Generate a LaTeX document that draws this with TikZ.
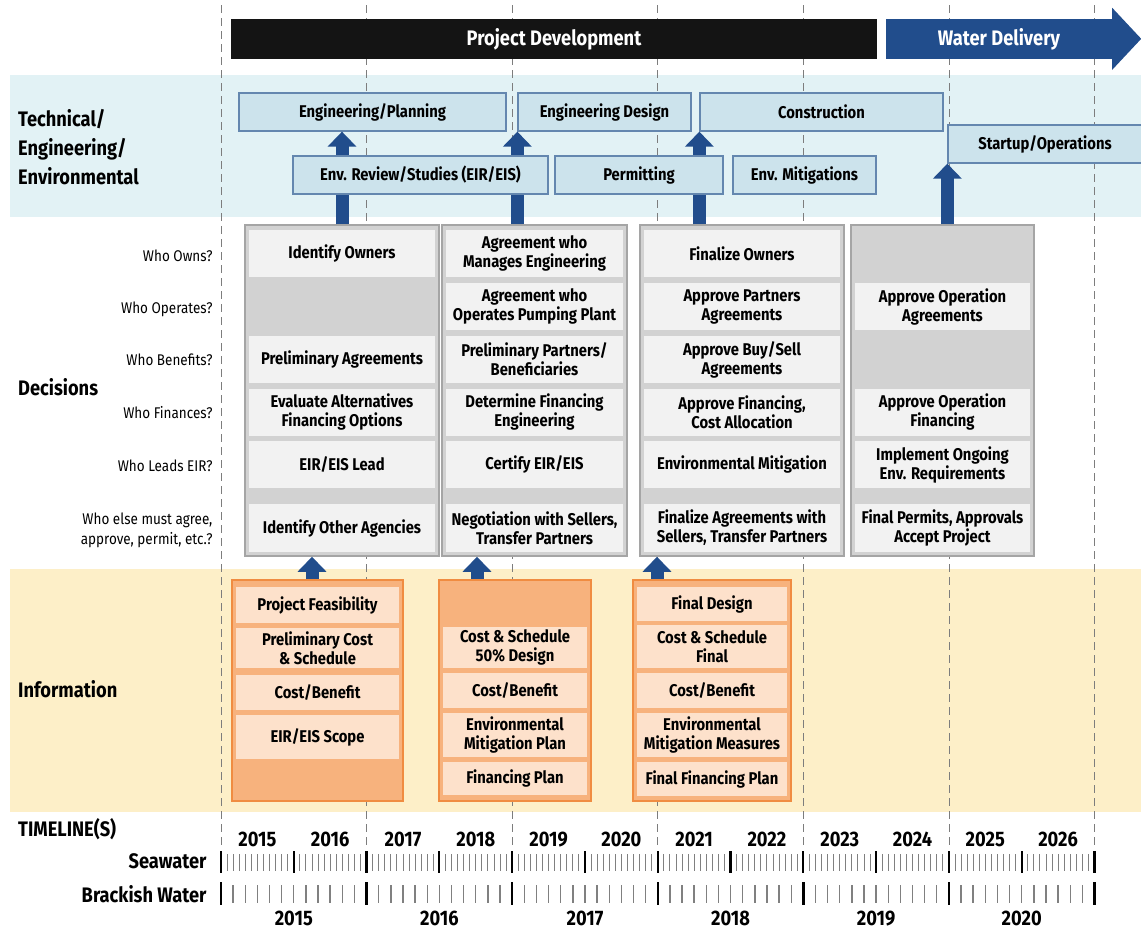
\documentclass[tikz,border=0pt]{standalone}
\usepackage{fontspec}
\setmainfont{Fira Sans}[FakeStretch=0.87]
\usetikzlibrary{arrows.meta,positioning,calc}
\definecolor{pdblack}{RGB}{20,20,20}
\definecolor{wdnavy}{RGB}{33,77,140}
\definecolor{techband}{RGB}{226,242,245}
\definecolor{techfill}{RGB}{204,227,236}
\definecolor{techline}{RGB}{100,135,175}
\definecolor{decgray}{RGB}{210,210,210}
\definecolor{decline}{RGB}{165,165,165}
\definecolor{deccellc}{RGB}{242,242,242}
\definecolor{infoband}{RGB}{253,239,200}
\definecolor{infofill}{RGB}{247,178,125}
\definecolor{infoline}{RGB}{240,140,65}
\definecolor{infocellc}{RGB}{253,225,203}
\definecolor{gridgray}{RGB}{125,125,125}

\begin{document}
\begin{tikzpicture}[x=1pt,y=-1pt,font=\bfseries\fontsize{17}{19}\selectfont,
  techbox/.style={draw=techline,fill=techfill,line width=1.3pt,minimum height=38pt,inner sep=0pt},
  deccol/.style={draw=decline,fill=decgray,line width=1.5pt,minimum height=331pt,inner sep=0pt},
  deccell/.style={fill=deccellc,minimum height=47pt,inner sep=0pt,align=center},
  infocol/.style={draw=infoline,fill=infofill,line width=2pt,minimum height=221pt,inner sep=0pt},
  infocell/.style={fill=infocellc,inner sep=0pt,align=center},
  bigup/.style={wdnavy,line width=13pt,-{Triangle[width=28pt,length=15pt]}},
  rowlabel/.style={anchor=east,align=right,font=\mdseries\fontsize{15.5}{20}\selectfont},
  sectlabel/.style={anchor=west,align=left,inner sep=0pt,font=\bfseries\fontsize{21}{29}\selectfont},
  yearlabel/.style={anchor=base,font=\bfseries\fontsize{21}{22}\selectfont},
  gridline/.style={gridgray,line width=0.8pt,dash pattern=on 8pt off 5pt}]
  \useasboundingbox (0,0) rectangle (1141,930);
  \fill[white] (0,0) rectangle (1141,930);
  % Bands and year grid
  \fill[techband] (10,75) rectangle (1141,217);
  \fill[infoband] (10,569) rectangle (1141,812);
  \foreach \k in {0,...,6}
    \draw[gridline] ({221+145.58*\k},5) -- ({221+145.58*\k},848);
  % Phases
  \node[fill=pdblack,text=white,minimum width=646pt,minimum height=40pt,inner sep=0pt,font=\bfseries\fontsize{21}{24}\selectfont] (projdev) at (554,39) {Project Development};
  \node[fill=wdnavy,text=white,minimum width=226pt,minimum height=40pt,inner sep=0pt,font=\bfseries\fontsize{21}{24}\selectfont] (waterdel) at (999,39) {Water Delivery};
  \fill[wdnavy] (waterdel.north east) -- ++(0,-11) -- ++(29,31) -- ++(-29,31) -- ++(0,-11) -- cycle;
  % Technical / Engineering / Environmental
  \node[sectlabel] (techlbl) at (18,147) {Technical/\\Engineering/\\Environmental};
  \node[techbox,minimum width=267pt] (engplan) at (372.5,112) {Engineering/Planning};
  \node[techbox,minimum width=173pt] (engdesign) at (604.5,112) {Engineering Design};
  \node[techbox,minimum width=243pt] (construct) at (821.5,112) {Construction};
  \node[techbox,minimum width=194pt] (startup) at (1045,144) {Startup/Operations};
  % Decision columns
  \node[deccol,minimum width=194pt] (dcol1) at (342,390.5) {};
  \node[deccol,minimum width=185pt] (dcol2) at (534.5,390.5) {};
  \node[deccol,minimum width=204pt] (dcol3) at (742,390.5) {};
  \node[deccol,minimum width=183pt] (dcol4) at (942.5,390.5) {};
  \draw[bigup] (dcol1.north) -- (dcol1.north |- engplan.south);
  \draw[bigup] (engdesign.south west |- dcol2.north) -- (engdesign.south west);
  \draw[bigup] (construct.south west |- dcol3.north) -- (construct.south west);
  \draw[bigup] (startup.south west |- dcol4.north) -- (startup.south west);
  \node[techbox,minimum width=255pt] (envrev) at (420.5,175) {Env. Review/Studies (EIR/EIS)};
  \node[techbox,minimum width=168pt] (permit) at (639,175) {Permitting};
  \node[techbox,minimum width=143pt] (envmit) at (804.5,175) {Env. Mitigations};
  % Decisions
  \node[sectlabel] (declbl) at (18,387) {Decisions};
  \node[rowlabel] (qown) at (216,256) {Who Owns?};
  \node[rowlabel] (qop) at (216,309) {Who Operates?};
  \node[rowlabel] (qben) at (216,360) {Who Benefits?};
  \node[rowlabel] (qfin) at (216,413) {Who Finances?};
  \node[rowlabel] (qeir) at (216,466) {Who Leads EIR?};
  \node[rowlabel] (qelse) at (216,530) {Who else must agree,\\approve, permit, etc.?};
  \node[deccell,minimum width=186pt] (d1own) at (342,253.5) {Identify Owners};
  \node[deccell,minimum width=186pt] (d1ben) at (342,359.5) {Preliminary Agreements};
  \node[deccell,minimum width=186pt] (d1fin) at (342,412) {Evaluate Alternatives\\Financing Options};
  \node[deccell,minimum width=186pt] (d1eir) at (342,464.5) {EIR/EIS Lead};
  \node[deccell,minimum width=186pt,minimum height=48pt] (d1else) at (342,528) {Identify Other Agencies};
  \node[deccell,minimum width=177pt] (d2own) at (534.5,253.5) {Agreement who\\Manages Engineering};
  \node[deccell,minimum width=177pt] (d2op) at (534.5,306.5) {Agreement who\\Operates Pumping Plant};
  \node[deccell,minimum width=177pt] (d2ben) at (534.5,359.5) {Preliminary Partners/\\Beneficiaries};
  \node[deccell,minimum width=177pt] (d2fin) at (534.5,412) {Determine Financing\\Engineering};
  \node[deccell,minimum width=177pt] (d2eir) at (534.5,464.5) {Certify EIR/EIS};
  \node[deccell,minimum width=177pt,minimum height=48pt] (d2else) at (534.5,528) {Negotiation with Sellers,\\Transfer Partners};
  \node[deccell,minimum width=196pt] (d3own) at (742,253.5) {Finalize Owners};
  \node[deccell,minimum width=196pt] (d3op) at (742,306.5) {Approve Partners\\Agreements};
  \node[deccell,minimum width=196pt] (d3ben) at (742,359.5) {Approve Buy/Sell\\Agreements};
  \node[deccell,minimum width=196pt] (d3fin) at (742,412) {Approve Financing,\\Cost Allocation};
  \node[deccell,minimum width=196pt] (d3eir) at (742,464.5) {Environmental Mitigation};
  \node[deccell,minimum width=196pt,minimum height=48pt] (d3else) at (742,528) {Finalize Agreements with\\Sellers, Transfer Partners};
  \node[deccell,minimum width=175pt] (d4op) at (942.5,306.5) {Approve Operation\\Agreements};
  \node[deccell,minimum width=175pt] (d4fin) at (942.5,412) {Approve Operation\\Financing};
  \node[deccell,minimum width=175pt] (d4eir) at (942.5,464.5) {Implement Ongoing\\Env. Requirements};
  \node[deccell,minimum width=175pt,minimum height=48pt] (d4else) at (942.5,528) {Final Permits, Approvals\\Accept Project};
  % Information
  \node[sectlabel] (infolbl) at (18,689) {Information};
  \node[infocol,minimum width=171pt] (icol1) at (317.5,690.5) {};
  \node[infocol,minimum width=152pt] (icol2) at (515,690.5) {};
  \node[infocol,minimum width=158pt] (icol3) at (712,690.5) {};
  \node[infocell,minimum width=163pt,minimum height=36pt] (i1feas) at (317.5,605) {Project Feasibility};
  \node[infocell,minimum width=163pt,minimum height=40pt] (i1cost) at (317.5,648) {Preliminary Cost\\\& Schedule};
  \node[infocell,minimum width=163pt,minimum height=35pt] (i1ben) at (317.5,692.5) {Cost/Benefit};
  \node[infocell,minimum width=163pt,minimum height=44pt] (i1eir) at (317.5,737) {EIR/EIS Scope};
  \node[infocell,minimum width=144pt,minimum height=41pt] (i2cost) at (515,647.5) {Cost \& Schedule\\50\% Design};
  \node[infocell,minimum width=144pt,minimum height=35pt] (i2ben) at (515,690.5) {Cost/Benefit};
  \node[infocell,minimum width=144pt,minimum height=44pt] (i2env) at (515,735) {Environmental\\Mitigation Plan};
  \node[infocell,minimum width=144pt,minimum height=33pt] (i2fin) at (515,778.5) {Financing Plan};
  \node[infocell,minimum width=150pt,minimum height=34pt] (i3des) at (712,604) {Final Design};
  \node[infocell,minimum width=150pt,minimum height=43pt] (i3cost) at (712,646.5) {Cost \& Schedule\\Final};
  \node[infocell,minimum width=150pt,minimum height=35pt] (i3ben) at (712,690.5) {Cost/Benefit};
  \node[infocell,minimum width=150pt,minimum height=44pt] (i3env) at (712,735) {Environmental\\Mitigation Measures};
  \node[infocell,minimum width=150pt,minimum height=34pt] (i3fin) at (712,779) {Final Financing Plan};
  \coordinate (ia1) at (312,0);
  \coordinate (ia2) at (477,0);
  \coordinate (ia3) at (657,0);
  \draw[bigup] (icol1.north -| ia1) -- (dcol1.south -| ia1);
  \draw[bigup] (icol2.north -| ia2) -- (dcol2.south -| ia2);
  \draw[bigup] (icol3.north -| ia3) -- (dcol3.south -| ia3);
  % Timelines
  \node[sectlabel,font=\bfseries\fontsize{21}{22}\selectfont] (tllbl) at (18,829) {TIMELINE(S)};
  \node[rowlabel,font=\bfseries\fontsize{21}{22}\selectfont] (sealbl) at (210,861) {Seawater};
  \node[rowlabel,font=\bfseries\fontsize{21}{22}\selectfont] (bracklbl) at (210,894) {Brackish Water};
  \foreach \k [evaluate=\k as \yr using int(2015+\k)] in {0,...,11}
    \node[yearlabel] (sy\k) at ({221+72.79*(\k+0.5)},846.5) {\yr};
  \foreach \i in {0,...,144}
    \draw[gray,line width=0.9pt] ({221+6.066*\i},854) -- ++(0,17);
  \foreach \i in {0,...,12}
    \draw[black,line width=2.2pt] ({221+72.79*\i},851) -- ++(0,22);
  \foreach \i in {0,...,72}
    \draw[gray,line width=1.4pt] ({221+12.132*\i},885) -- ++(0,18);
  \foreach \i in {0,...,6}
    \draw[black,line width=2.4pt] ({221+145.58*\i},882) -- ++(0,23);
  \foreach \k [evaluate=\k as \yr using int(2015+\k)] in {0,...,5}
    \node[yearlabel] (by\k) at ({221+145.58*(\k+0.5)},925.5) {\yr};
\end{tikzpicture}
\end{document}
